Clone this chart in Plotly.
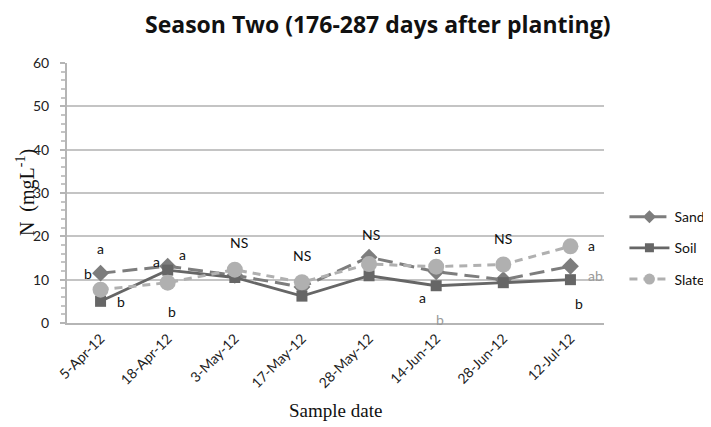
import plotly.graph_objects as go

dates = ["5-Apr-12", "18-Apr-12", "3-May-12", "17-May-12", "28-May-12", "14-Jun-12", "28-Jun-12", "12-Jul-12"]
sand = [11.5, 13.1, 11.0, 8.3, 15.2, 11.8, 10.0, 13.1]
soil = [5.0, 12.2, 10.5, 6.2, 10.9, 8.6, 9.3, 10.0]
slate = [7.7, 9.3, 12.3, 9.4, 13.6, 13.0, 13.5, 17.7]

# significance labels: (category index offset, y value, text, grey?)
lab_x = [0.0, -0.19, 0.30, 0.83, 1.22, 1.07, 2.06, 3.0, 4.03, 5.02, 4.8, 5.05, 6.0, 7.32, 7.38, 7.13]
lab_y = [17.1, 11.5, 5.0, 14.2, 15.8, 2.7, 18.5, 15.5, 20.4, 17.1, 6.0, 0.9, 19.4, 17.8, 10.9, 4.6]
lab_t = ["a", "b", "b", "a", "a", "b", "NS", "NS", "NS", "a", "a", "b", "NS", "a", "ab", "b"]
lab_g = [0, 0, 0, 0, 0, 0, 0, 0, 0, 0, 0, 1, 0, 0, 1, 0]

series = [
    ("Sand", sand, dict(color="#7d7d7d", width=3, dash="15px,7px"), "diamond", 13, 10),
    ("Soil", soil, dict(color="#666666", width=2.8), "square", 11, 9),
    ("Slate", slate, dict(color="#b0b0b0", width=3, dash="8px,6px"), "circle", 16, 11),
]

fig = go.Figure()
for i, (name, vals, line, sym, msize, lsize) in enumerate(series):
    col = line["color"]
    fig.add_trace(go.Scatter(x=dates, y=vals, name=name, mode="lines+markers", showlegend=False,
                             line=line, marker=dict(symbol=sym, size=msize, color=col)))
    # legend entry with smaller marker, as in the reference
    fig.add_trace(go.Scatter(x=[None], y=[None], name=name, mode="lines+markers", legendgroup=str(i),
                             line=line, marker=dict(symbol=sym, size=lsize, color=col)))

for xv, yv, t, g in zip(lab_x, lab_y, lab_t, lab_g):
    fig.add_annotation(x=xv, y=yv, text=t, showarrow=False, xref="x", yref="y",
                       font=dict(family="Lato", size=14, color="#9a9a9a" if g else "#111111"))

# axis titles
fig.add_annotation(text="N  (mgL<sup>-1</sup>)", textangle=-90, showarrow=False,
                   xref="paper", yref="paper", x=-0.078, y=0.5, xanchor="center", yanchor="middle",
                   font=dict(family="Liberation Serif", size=20, color="#111111"))
fig.add_annotation(text="Sample date", showarrow=False,
                   xref="paper", yref="paper", x=0.5, y=-0.335, xanchor="center", yanchor="middle",
                   font=dict(family="Liberation Serif", size=19, color="#111111"))

fig.update_layout(
    width=711, height=427,
    margin=dict(l=59, r=115, t=55, b=112),
    paper_bgcolor="white", plot_bgcolor="white",
    title=dict(text="<b>Season Two (176-287 days after planting)</b>", x=0.52, xanchor="center",
               y=0.96, yanchor="middle",
               font=dict(family="Open Sans", size=23, color="#111111")),
    legend=dict(x=0.867, xref="container", y=0.469, yref="paper", xanchor="left", yanchor="top",
                tracegroupgap=10,
                font=dict(family="Lato", size=14, color="#111111"), itemwidth=40,
                bgcolor="rgba(0,0,0,0)"),
    showlegend=True,
)
fig.update_xaxes(type="category", range=[-0.5, 7.5], tickangle=-45, showgrid=False, automargin=False,
                 showline=True, linecolor="#b5b5b5", linewidth=2, ticks="",
                 tickfont=dict(family="Lato", size=14, color="#222222"))
fig.update_yaxes(range=[0, 60], dtick=10, showgrid=True, gridcolor="#c4c4c4", gridwidth=2, automargin=False,
                 showline=True, linecolor="#b5b5b5", linewidth=2, zeroline=False,
                 ticks="outside", ticklen=5, tickcolor="#b5b5b5", tickwidth=2, ticklabelstandoff=8,
                 minor=dict(dtick=2, ticks="outside", ticklen=4, tickcolor="#c4c4c4", tickwidth=1.5, showgrid=False),
                 tickfont=dict(family="Lato", size=14, color="#222222"))

fig.write_html("out.html")
